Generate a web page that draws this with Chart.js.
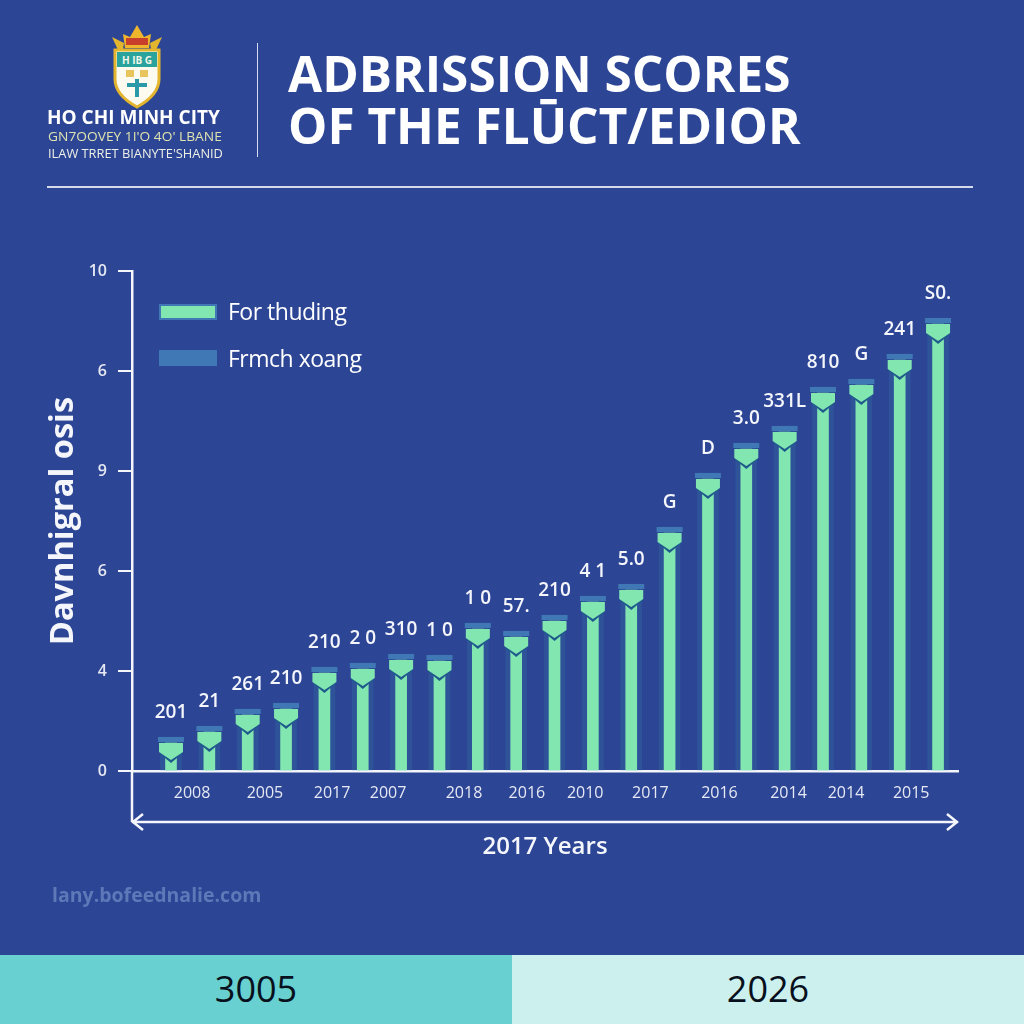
<!DOCTYPE html>
<html>
<head>
<meta charset="utf-8">
<title>Admission scores</title>
<script src="https://cdn.jsdelivr.net/npm/chart.js@4"></script>
<style>
  html, body { margin: 0; padding: 0; background: #2c4595; }
  #page { position: relative; width: 1024px; height: 1024px; overflow: hidden; background: #2c4595; font-family: "Open Sans", sans-serif; color: #fff; }
  #page canvas { position: absolute; left: 0; top: 0; }
  .abs { position: absolute; white-space: nowrap; }
  #logo { left: 109px; top: 23px; }
  #school1 { left: 47px; top: 107px; font-size: 19px; font-weight: 700; line-height: 20px; }
  #school2 { left: 48px; top: 128px; font-size: 13.5px; line-height: 16px; color: #dfe3b0; transform-origin: left top; transform: scaleX(1.02); }
  #school3 { left: 48px; top: 145px; font-size: 13.5px; line-height: 16px; color: #eef0e6; transform-origin: left top; transform: scaleX(0.95); }
  #vline { left: 257px; top: 43px; width: 1px; height: 114px; background: #d5dbec; }
  #title1 { left: 288px; top: 38px; font-size: 49.5px; font-weight: 700; line-height: 70px; }
  #title2 { left: 288px; top: 90px; font-size: 49.5px; font-weight: 700; line-height: 70px; }
  #rule { left: 47px; top: 186px; width: 926px; height: 2px; background: #d5dbec; }
  .legend-swatch { left: 159px; width: 58px; height: 16px; }
  .legend-text { left: 228px; font-size: 23px; font-weight: 500; line-height: 30px; letter-spacing: -0.5px; }
  #site { left: 52px; top: 884px; font-size: 19.5px; font-weight: 700; line-height: 22px; color: #5f78b8; }
  .foot { top: 955px; width: 512px; height: 69px; text-align: center; line-height: 67px; font-size: 36px; color: #07101c; }
  #footL { left: 0; background: #68d0d0; }
  #footR { left: 512px; background: #cbf0ee; }
</style>
</head>
<body>
<div id="page">
  <canvas id="chart" width="1024" height="1024"></canvas>

  <svg id="logo" class="abs" width="56" height="86" viewBox="0 0 56 86">
    <path d="M3 14 L15 20 L14 26 L9 27 Z M53 14 L41 20 L42 26 L47 27 Z" fill="#e3b52f"/>
    <path d="M14 11 L21 14 L28 2 L35 14 L42 11 L40 25 L16 25 Z" fill="#efb52c"/>
    <rect x="17" y="15" width="22" height="7" fill="#c8402c"/>
    <path d="M6 27 H50 V56 Q50 72 28 84 Q6 72 6 56 Z" fill="#fdfbf0" stroke="#e3b52f" stroke-width="3"/>
    <rect x="8" y="29" width="40" height="15" fill="#2aa39d"/>
    <text x="28" y="41" text-anchor="middle" font-size="10" font-weight="700" fill="#f4f6e8">H IB G</text>
    <rect x="17" y="47" width="8" height="7" fill="#e9c35c"/>
    <rect x="31" y="47" width="8" height="7" fill="#e9c35c"/>
    <path d="M26 56 H30 V60 H38 V64 H30 V74 H26 V64 H18 V60 H26 Z" fill="#2a9aa8"/>
  </svg>
  <div id="school1" class="abs">HO CHI MINH CITY</div>
  <div id="school2" class="abs">GN7OOVEY 1I'O 4O' LBANE</div>
  <div id="school3" class="abs">ILAW TRRET BIANYTE'SHANID</div>
  <div id="vline" class="abs"></div>
  <div id="title1" class="abs">ADBRISSION SCORES</div>
  <div id="title2" class="abs">OF THE FLŪCT/EDIOR</div>
  <div id="rule" class="abs"></div>

  <div class="abs legend-swatch" id="swatch0" style="top:304px"></div>
  <div class="abs legend-text" id="legend0" style="top:296px"></div>
  <div class="abs legend-swatch" id="swatch1" style="top:350px"></div>
  <div class="abs legend-text" id="legend1" style="top:343px"></div>

  <div id="site" class="abs">lany.bofeednalie.com</div>
  <div id="footL" class="abs foot">3005</div>
  <div id="footR" class="abs foot">2026</div>
</div>

<script>
const barIndex = [1, 2, 3, 4, 5, 6, 7, 8, 9, 10, 11, 12, 13, 14, 15, 16, 17, 18, 19, 20, 21];
const forThuding = [0.56, 0.78, 1.12, 1.24, 1.96, 2.04, 2.22, 2.2, 2.84, 2.68, 3.0, 3.38, 3.62, 4.76, 5.84, 6.44, 6.78, 7.56, 7.72, 8.22, 8.94];
const frmchXoang = [0.68, 0.9, 1.24, 1.36, 2.08, 2.16, 2.34, 2.32, 2.96, 2.8, 3.12, 3.5, 3.74, 4.88, 5.96, 6.56, 6.9, 7.68, 7.84, 8.34, 9.06];
const barLabels = ["201", "21", "261", "210", "210", "2 0", "310", "1 0", "1 0", "57.", "210", "4 1", "5.0", "G", "D", "3.0", "331L", "810", "G", "241", "S0."];
const seriesNames = ["For thuding", "Frmch xoang"];
const yearLabels = ["2008", "2005", "2017", "2007", "2018", "2016", "2010", "2017", "2016", "2014", "2014", "2015"];
const yearTickAt = [1.55, 3.45, 5.2, 6.66, 8.64, 10.28, 11.8, 13.5, 15.3, 17.1, 18.6, 20.3];
const yTickLabels = ["0", "4", "6", "9", "6", "10"];

const GREEN = "#82e6b0";
const BLUE = "#3f78b4";
const WHITE = "#f4f6fb";

// legend is plain html, fed from the series names
seriesNames.forEach((name, i) => {
  document.getElementById("legend" + i).textContent = name;
  document.getElementById("swatch" + i).style.background = i === 0 ? GREEN : BLUE;
});
document.getElementById("swatch0").style.border = "2px solid " + BLUE;
document.getElementById("swatch0").style.boxSizing = "border-box";

// arrow heads, pentagon caps and the labels above them
const decorations = {
  id: "decorations",
  afterDatasetsDraw(chart) {
    const ctx = chart.ctx;
    const area = chart.chartArea;
    const green = chart.getDatasetMeta(1).data;
    const blue = chart.getDatasetMeta(0).data;

    green.forEach((bar, i) => {
      const x = bar.x;
      const topBlue = blue[i].y;
      const top = bar.y;

      // dark outline under the tip
      ctx.fillStyle = "#1f5a8c";
      ctx.beginPath();
      ctx.moveTo(x - 12, top + 10);
      ctx.lineTo(x, top + 20);
      ctx.lineTo(x + 12, top + 10);
      ctx.closePath();
      ctx.fill();

      ctx.fillStyle = GREEN;
      ctx.beginPath();
      ctx.moveTo(x - 12, top);
      ctx.lineTo(x + 12, top);
      ctx.lineTo(x + 12, top + 9);
      ctx.lineTo(x, top + 17);
      ctx.lineTo(x - 12, top + 9);
      ctx.closePath();
      ctx.fill();

      ctx.fillStyle = BLUE;
      ctx.fillRect(x - 13, topBlue, 26, 5);

      ctx.fillStyle = WHITE;
      ctx.font = "600 19px 'Open Sans'";
      ctx.textAlign = "center";
      ctx.textBaseline = "middle";
      ctx.fillText(barLabels[i], x, topBlue - 24);
    });

    // y axis runs on below the x axis, double arrow under the years
    const arrowY = area.bottom + 51;
    ctx.strokeStyle = WHITE;
    ctx.lineWidth = 2.5;
    ctx.beginPath();
    ctx.moveTo(area.left, area.bottom);
    ctx.lineTo(area.left, arrowY);
    ctx.moveTo(area.left, arrowY);
    ctx.lineTo(area.right, arrowY);
    ctx.moveTo(area.left + 11, arrowY - 8);
    ctx.lineTo(area.left + 1, arrowY);
    ctx.lineTo(area.left + 11, arrowY + 8);
    ctx.moveTo(area.right - 11, arrowY - 8);
    ctx.lineTo(area.right - 1, arrowY);
    ctx.lineTo(area.right - 11, arrowY + 8);
    ctx.stroke();
  }
};

new Chart(document.getElementById("chart"), {
  type: "bar",
  data: {
    datasets: [
      {
        label: seriesNames[1],
        data: barIndex.map((x, i) => ({ x: x, y: frmchXoang[i] })),
        backgroundColor: "rgba(50, 105, 160, 0.4)",
        barThickness: 21,
        grouped: false,
        order: 2
      },
      {
        label: seriesNames[0],
        data: barIndex.map((x, i) => ({ x: x, y: forThuding[i] })),
        backgroundColor: GREEN,
        barThickness: 11,
        grouped: false,
        order: 1
      }
    ]
  },
  options: {
    responsive: false,
    animation: false,
    layout: { padding: { top: 271, right: 66, left: 0, bottom: 162 } },
    plugins: { legend: { display: false }, tooltip: { enabled: false } },
    scales: {
      x: {
        type: "linear",
        offset: false,
        min: -0.017,
        max: 21.52,
        afterBuildTicks: (scale) => { scale.ticks = yearTickAt.map(v => ({ value: v })); },
        afterFit: (scale) => { scale.height = 91; },
        grid: { display: false, drawTicks: false },
        border: { color: WHITE, width: 2.5 },
        ticks: {
          autoSkip: false,
          maxRotation: 0,
          padding: 13,
          color: "#e6e9f4",
          font: { family: "Open Sans", size: 16, weight: "500" },
          callback: (value, index) => yearLabels[index]
        },
        title: {
          display: true,
          text: "2017 Years",
          color: WHITE,
          padding: { top: 31, bottom: 0 },
          font: { family: "Open Sans", size: 24, weight: "600" }
        }
      },
      y: {
        min: 0,
        max: 10,
        afterBuildTicks: (scale) => { scale.ticks = yTickLabels.map((t, i) => ({ value: i * 2 })); },
        afterFit: (scale) => { scale.width = 132; },
        grid: { drawOnChartArea: false, color: WHITE, lineWidth: 2, tickLength: 14 },
        border: { color: WHITE, width: 2.5 },
        ticks: {
          padding: 11,
          color: "#e6e9f4",
          font: { family: "Open Sans", size: 16, weight: "600" },
          callback: (value, index) => yTickLabels[index]
        },
        title: {
          display: true,
          text: "Davnhigral osis",
          color: WHITE,
          padding: { top: 44, bottom: 0 },
          font: { family: "Open Sans", size: 32.5, weight: "700" }
        }
      }
    }
  },
  plugins: [decorations]
});
</script>
</body>
</html>
